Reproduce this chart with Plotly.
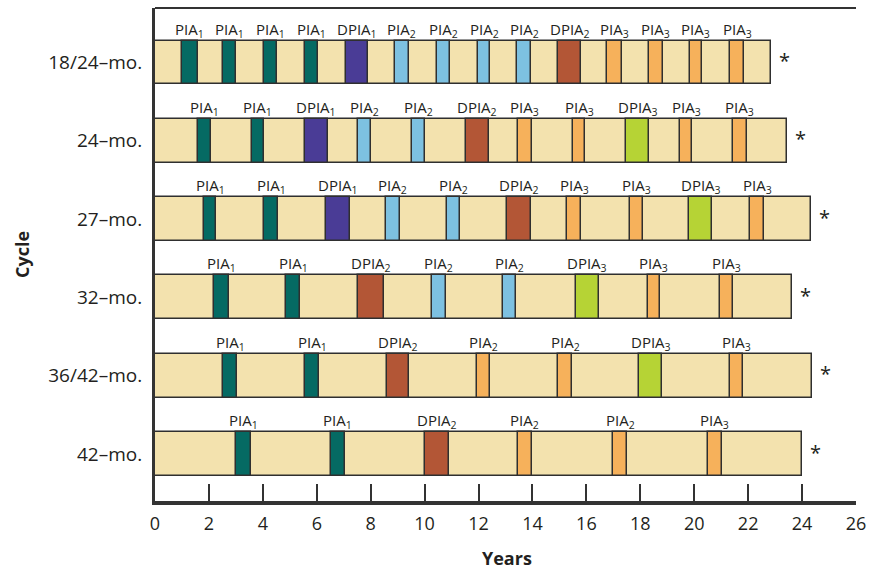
import plotly.graph_objects as go

# ---------------- data ----------------
cycles = ["18/24–mo.", "24–mo.", "27–mo.", "32–mo.", "36/42–mo.", "42–mo."]
cycle_end = [22.83, 23.44, 24.32, 23.61, 24.35, 24.0]

row1_labels = ["PIA1", "PIA1", "PIA1", "PIA1", "DPIA1", "PIA2", "PIA2", "PIA2", "PIA2", "DPIA2", "PIA3", "PIA3", "PIA3", "PIA3"]
row1_fill = row1_labels
row1_starts = [0.99, 2.52, 4.04, 5.55, 7.07, 8.91, 10.46, 11.98, 13.43, 14.95, 16.78, 18.31, 19.83, 21.34]
row1_ends = [1.59, 3.01, 4.53, 6.04, 7.90, 9.41, 10.93, 12.44, 13.96, 15.81, 17.32, 18.84, 20.30, 21.84]

row2_labels = ["PIA1", "PIA1", "DPIA1", "PIA2", "PIA2", "DPIA2", "PIA3", "PIA3", "DPIA3", "PIA3", "PIA3"]
row2_fill = row2_labels
row2_starts = [1.59, 3.59, 5.55, 7.54, 9.53, 11.52, 13.46, 15.50, 17.48, 19.46, 21.44]
row2_ends = [2.09, 4.04, 6.41, 8.02, 10.03, 12.39, 13.98, 15.96, 18.32, 19.93, 21.94]

row3_labels = ["PIA1", "PIA1", "DPIA1", "PIA2", "PIA2", "DPIA2", "PIA3", "PIA3", "DPIA3", "PIA3"]
row3_fill = row3_labels
row3_starts = [1.81, 4.06, 6.33, 8.58, 10.84, 13.05, 15.29, 17.61, 19.81, 22.08]
row3_ends = [2.27, 4.56, 7.22, 9.07, 11.32, 13.96, 15.81, 18.10, 20.66, 22.58]

row4_labels = ["PIA1", "PIA1", "DPIA2", "PIA2", "PIA2", "DPIA3", "PIA3", "PIA3"]
row4_fill = row4_labels
row4_starts = [2.17, 4.87, 7.53, 10.27, 12.91, 15.60, 18.29, 20.97]
row4_ends = [2.74, 5.39, 8.49, 10.78, 13.40, 16.47, 18.72, 21.42]

row5_labels = ["PIA1", "PIA1", "DPIA2", "PIA2", "PIA2", "DPIA3", "PIA3"]
row5_fill = ["PIA1", "PIA1", "DPIA2", "PIA3", "PIA3", "DPIA3", "PIA3"]
row5_starts = [2.54, 5.58, 8.60, 11.96, 14.95, 17.95, 21.34]
row5_ends = [3.04, 6.10, 9.42, 12.44, 15.47, 18.82, 21.81]

row6_labels = ["PIA1", "PIA1", "DPIA2", "PIA2", "PIA2", "PIA3"]
row6_fill = ["PIA1", "PIA1", "DPIA2", "PIA3", "PIA3", "PIA3"]
row6_starts = [2.99, 6.52, 10.00, 13.46, 16.99, 20.51]
row6_ends = [3.57, 7.05, 10.91, 13.98, 17.52, 21.02]

x_ticks = list(range(0, 27, 2))

# ---------------- styling ----------------
WHEAT = "#F3E2AE"
fill_colors = {
    "PIA1": "#056A63",
    "DPIA1": "#4A3C96",
    "PIA2": "#7DC1E1",
    "DPIA2": "#B35636",
    "PIA3": "#F6B15B",
    "DPIA3": "#B6D335",
}
OUTLINE = "#2f2f2f"
TEXT = "#231F20"
FONT = "Open Sans"
BAR_H = 0.56

rows = [
    (row1_labels, row1_fill, row1_starts, row1_ends),
    (row2_labels, row2_fill, row2_starts, row2_ends),
    (row3_labels, row3_fill, row3_starts, row3_ends),
    (row4_labels, row4_fill, row4_starts, row4_ends),
    (row5_labels, row5_fill, row5_starts, row5_ends),
    (row6_labels, row6_fill, row6_starts, row6_ends),
]

fig = go.Figure()

# background cycle bars
fig.add_trace(go.Bar(
    y=list(range(len(cycles))), x=cycle_end, base=[0] * len(cycles),
    orientation="h", width=BAR_H,
    marker=dict(color=WHEAT, line=dict(color=OUTLINE, width=1.5)),
    showlegend=False, hoverinfo="skip",
))

# inspection markers grouped by colour
groups = {}
for r, (labels, fills, starts, ends) in enumerate(rows):
    for lab, f, s, e in zip(labels, fills, starts, ends):
        g = groups.setdefault(f, {"y": [], "base": [], "x": []})
        g["y"].append(r)
        g["base"].append(s)
        g["x"].append(e - s)

for f, g in groups.items():
    fig.add_trace(go.Bar(
        y=g["y"], x=g["x"], base=g["base"], orientation="h", width=BAR_H,
        marker=dict(color=fill_colors[f], line=dict(color=OUTLINE, width=1.5)),
        showlegend=False, hoverinfo="skip",
    ))


def fmt(label):
    return label[:-1] + "<sub>" + label[-1] + "</sub>"


annotations = []
for r, (labels, fills, starts, ends) in enumerate(rows):
    for lab, s, e in zip(labels, starts, ends):
        annotations.append(dict(
            x=(s + e) / 2, y=r - BAR_H / 2, xref="x", yref="y",
            text=fmt(lab), showarrow=False, yanchor="bottom", xanchor="center",
            yshift=-2, font=dict(family=FONT, size=15, color=TEXT),
        ))
    annotations.append(dict(
        x=cycle_end[r], y=r, xref="x", yref="y", text="*", showarrow=False,
        xanchor="left", yanchor="middle", xshift=6, yshift=2,
        font=dict(family=FONT, size=20, color=TEXT),
    ))

L, R, T, B = 155, 16, 8, 71
PW, PH = 872 - L - R, 572 - T - B

# axis titles (positions in page pixels converted to paper coords)
annotations.append(dict(
    xref="paper", yref="paper", x=(22 - L) / PW, y=(572 - B - 255) / PH,
    xanchor="center", yanchor="middle",
    text="<b>Cycle</b>", showarrow=False, textangle=-90,
    font=dict(family=FONT, size=18, color=TEXT),
))
annotations.append(dict(
    xref="paper", yref="paper", x=(507 - L) / PW, y=(572 - B - 558) / PH,
    xanchor="center", yanchor="middle",
    text="<b>Years</b>", showarrow=False,
    font=dict(family=FONT, size=18, color=TEXT),
))

fig.update_layout(
    width=872, height=572,
    margin=dict(l=L, r=R, t=T, b=B, autoexpand=False),
    paper_bgcolor="white", plot_bgcolor="white",
    barmode="overlay",
    bargap=0,
    font=dict(family=FONT, color=TEXT),
    annotations=annotations,
    shapes=[dict(type="line", xref="paper", yref="paper", x0=0, x1=1, y0=1, y1=1,
                 line=dict(color="#333333", width=2))],
)

fig.update_xaxes(
    range=[0, 26], tickvals=x_ticks, ticktext=[str(t) for t in x_ticks],
    ticks="inside", ticklen=17, tickwidth=1.5, tickcolor="#333333",
    showline=True, linecolor="#333333", linewidth=3.5,
    showgrid=False, zeroline=False, automargin=False, ticklabelstandoff=4,
    tickfont=dict(family=FONT, size=18, color=TEXT),
)
fig.update_yaxes(
    range=[5.600, -0.696], tickvals=list(range(len(cycles))), ticktext=cycles,
    ticks="", showline=True, linecolor="#333333", linewidth=3,
    showgrid=False, zeroline=False, ticklabelstandoff=6, automargin=False,
    tickfont=dict(family=FONT, size=19, color=TEXT),
)

fig.write_html(
    "out.html",
    config={"displayModeBar": False},
    post_script="document.body.style.margin='0';document.body.style.padding='0';",
)
